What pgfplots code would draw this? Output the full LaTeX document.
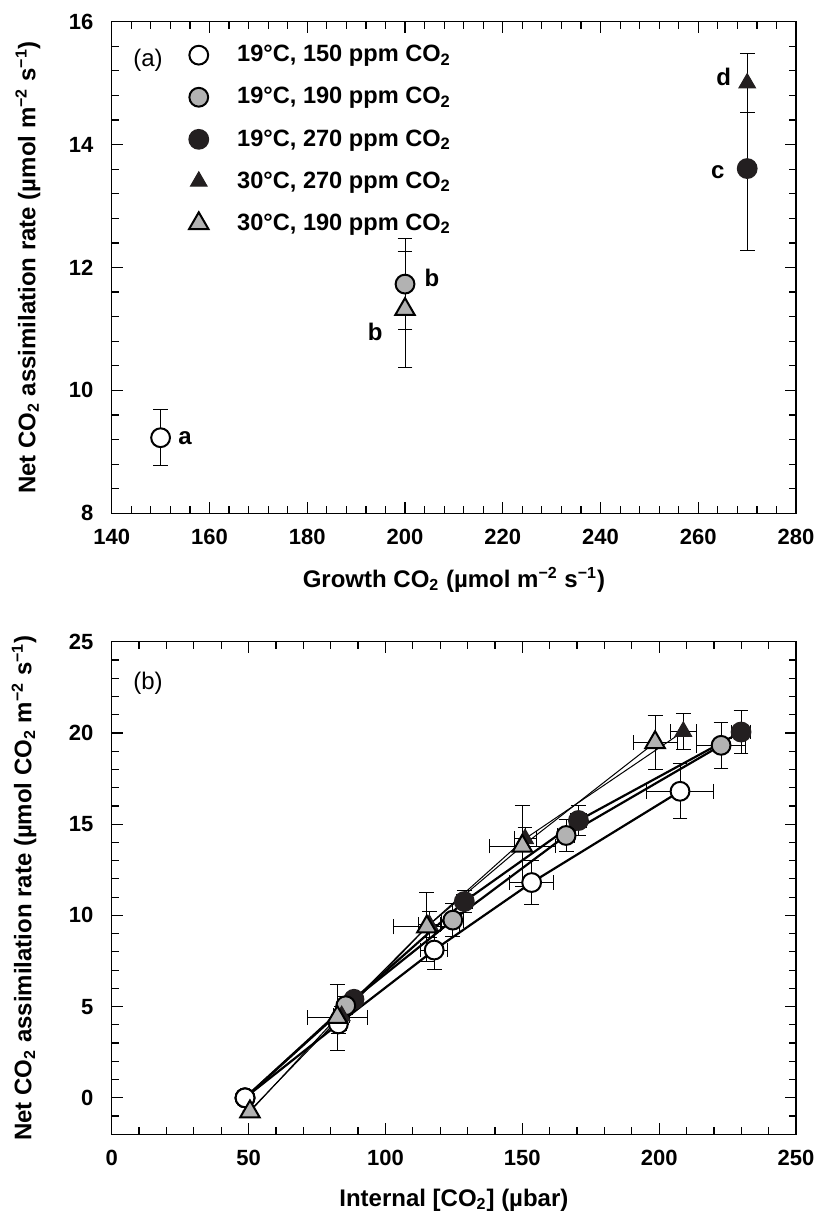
\documentclass[border=0pt]{standalone}
\usepackage{fontspec}
\setmainfont{Liberation Sans}
\usepackage{pgfplots}
\pgfplotsset{compat=1.18}

\definecolor{mgray}{gray}{0.70}
\definecolor{mblack}{RGB}{35,31,32}

\newcommand{\lblfont}{\bfseries\fontsize{12}{14}\selectfont}

\pgfplotsset{
  panel/.style={
    scale only axis, width=342.2pt,
    axis line style={line width=0.75pt},
    tick align=inside, xtick pos=both, ytick pos=both,
    major tick length=5.5pt, minor tick length=3.5pt,
    every tick/.style={black, line width=0.6pt},
    tick label style={font=\bfseries\fontsize{11}{13}\selectfont},
    /pgf/number format/assume math mode=true,
    yticklabel style={xshift=-5.6pt},
    xticklabel style={yshift=-4.5pt},
    error bars/error bar style={line width=0.5pt, black},
    error bars/error mark options={line width=0.5pt, black, mark size=3.7pt, rotate=90},
  },
  ocirc/.style={mark=*, mark size=4.7pt, mark options={fill=white, draw=black, line width=1pt}},
  gcirc/.style={mark=*, mark size=4.7pt, mark options={fill=mgray, draw=black, line width=1pt}},
  bcirc/.style={mark=*, mark size=4.7pt, mark options={fill=mblack, draw=mblack, line width=1pt}},
  btri/.style={mark=triangle*, mark size=4.8pt, mark options={fill=mblack, draw=mblack, line width=0.5pt}},
  gtri/.style={mark=triangle*, mark size=5.6pt, mark options={fill=mgray, draw=black, line width=1pt}},
}

% panel (a): growth CO2, rate, y error
\pgfplotstableread{
x   y     ey
150 9.23  0.46
}\aOpen
\pgfplotstableread{
x   y     ey
200 11.73 0.74
}\aGray
\pgfplotstableread{
x   y     ey
270 13.61 1.33
}\aBlack
\pgfplotstableread{
x   y     ey
270 15.00 0.48
}\aBTri
\pgfplotstableread{
x   y     ey
200 11.32 0.94
}\aGTri

% panel (b): internal CO2, rate, x error, y error
\pgfplotstableread{
x     y     ex    ey
48.7  0.00  0     0
82.8  4.05  3     0.5
117.8 8.10  5     1.05
153.4 11.80 8     1.2
207.6 16.80 12.3  1.5
}\bOpen
\pgfplotstableread{
x     y     ex    ey
48.7  0.00  0     0
85.5  5.05  3     0.5
124.6 9.74  4     0.9
166.0 14.38 3     0.9
222.6 19.32 8.8   1.27
}\bGray
\pgfplotstableread{
x     y     ex    ey
48.7  0.00  0     0
88.5  5.40  2     0.4
128.8 10.76 3     0.6
170.5 15.20 3     0.8
229.9 20.05 3.6   1.2
}\bBlack
\pgfplotstableread{
x     y     ex    ey
50.5  -0.70 0     0
84.0  4.50  3     0.5
116.0 9.50  4     0.7
151.0 14.20 4     0.6
208.8 20.08 4.7   1.0
}\bBTri
\pgfplotstableread{
x     y     ex    ey
50.5  -0.76 0     0
82.4  4.42  11    1.8
115.1 9.37  12    1.9
150.0 13.80 12    2.2
198.5 19.48 8     1.5
}\bGTri

\begin{document}
\begin{tikzpicture}
\useasboundingbox (0,0) rectangle (407pt,-605.5pt);

\begin{axis}[panel,
  at={(55.85pt,-10.85pt)}, anchor=north west, height=245.8pt,
  xmin=140, xmax=280, ymin=8, ymax=16,
  xtick={140,160,...,280}, ytick={8,10,...,16},
  minor tick num=4,
  every axis x label/.style={at={(axis description cs:0.5,-0.1355)}, anchor=center, font=\lblfont},
  every axis y label/.style={at={(axis description cs:-0.1224,0.5)}, rotate=90, anchor=center, font=\lblfont},
  xlabel={Growth CO\textsubscript{2} (µmol m\textsuperscript{−2} s\textsuperscript{−1})},
  ylabel={Net CO\textsubscript{2} assimilation rate (µmol m\textsuperscript{−2} s\textsuperscript{−1})},
  legend image code/.code={\path[draw=none, fill=none] (0cm,0cm) -- (0.975cm,0cm);
    \path[#1, draw=none] plot coordinates {(0.3cm,0cm)};},
  legend cell align=left,
  legend style={draw=none, fill=none, inner sep=0pt, row sep=7.3pt,
    at={(0.1017,0.9607)}, anchor=north west,
    font=\bfseries\fontsize{11.8}{13}\selectfont, nodes={inner xsep=0pt}},
]
\addplot[ocirc, only marks, error bars/.cd, y dir=both, y explicit] table[x=x, y=y, y error=ey] {\aOpen};
\addplot[gcirc, only marks, error bars/.cd, y dir=both, y explicit] table[x=x, y=y, y error=ey] {\aGray};
\addplot[bcirc, only marks, error bars/.cd, y dir=both, y explicit] table[x=x, y=y, y error=ey] {\aBlack};
\addplot[btri, only marks, error bars/.cd, y dir=both, y explicit] table[x=x, y=y, y error=ey] {\aBTri};
\addplot[gtri, only marks, error bars/.cd, y dir=both, y explicit] table[x=x, y=y, y error=ey] {\aGTri};
\legend{19°C{,} 150 ppm CO\textsubscript{2}, 19°C{,} 190 ppm CO\textsubscript{2}, 19°C{,} 270 ppm CO\textsubscript{2}, 30°C{,} 270 ppm CO\textsubscript{2}, 30°C{,} 190 ppm CO\textsubscript{2}}
\node[font=\fontsize{12}{14}\selectfont] at (rel axis cs:0.053,0.922) {(a)};
\node[font=\lblfont] at (axis cs:155.0,9.22) {a};
\node[font=\lblfont] at (axis cs:205.5,11.83) {b};
\node[font=\lblfont] at (axis cs:193.9,10.95) {b};
\node[font=\lblfont] at (axis cs:264.0,13.55) {c};
\node[font=\lblfont] at (axis cs:265.2,15.10) {d};
\end{axis}

\begin{axis}[panel,
  at={(55.85pt,-320.85pt)}, anchor=north west, height=246.3pt,
  xmin=0, xmax=250, ymin=-2, ymax=25,
  xtick={0,50,...,250}, ytick={0,5,...,25},
  minor xtick={0,10,...,250}, minor ytick={-2,-1,...,25},
  every axis x label/.style={at={(axis description cs:0.5,-0.1336)}, anchor=center, font=\lblfont},
  every axis y label/.style={at={(axis description cs:-0.1281,0.5)}, rotate=90, anchor=center, font=\lblfont},
  xlabel={Internal [CO\textsubscript{2}] (µbar)},
  ylabel={Net CO\textsubscript{2} assimilation rate (µmol CO\textsubscript{2} m\textsuperscript{−2} s\textsuperscript{−1})},
]
\addplot[bcirc, black, line width=1.1pt, error bars/.cd, x dir=both, x explicit, y dir=both, y explicit] table[x=x, y=y, x error=ex, y error=ey] {\bBlack};
\addplot[gcirc, black, line width=1.1pt, error bars/.cd, x dir=both, x explicit, y dir=both, y explicit] table[x=x, y=y, x error=ex, y error=ey] {\bGray};
\addplot[ocirc, black, line width=1.1pt, error bars/.cd, x dir=both, x explicit, y dir=both, y explicit] table[x=x, y=y, x error=ex, y error=ey] {\bOpen};
\addplot[btri, black, line width=0.5pt, error bars/.cd, x dir=both, x explicit, y dir=both, y explicit] table[x=x, y=y, x error=ex, y error=ey] {\bBTri};
\addplot[gtri, black, line width=0.5pt, error bars/.cd, x dir=both, x explicit, y dir=both, y explicit] table[x=x, y=y, x error=ex, y error=ey] {\bGTri};
\node[font=\fontsize{12}{14}\selectfont] at (rel axis cs:0.053,0.916) {(b)};
\end{axis}
\end{tikzpicture}
\end{document}
